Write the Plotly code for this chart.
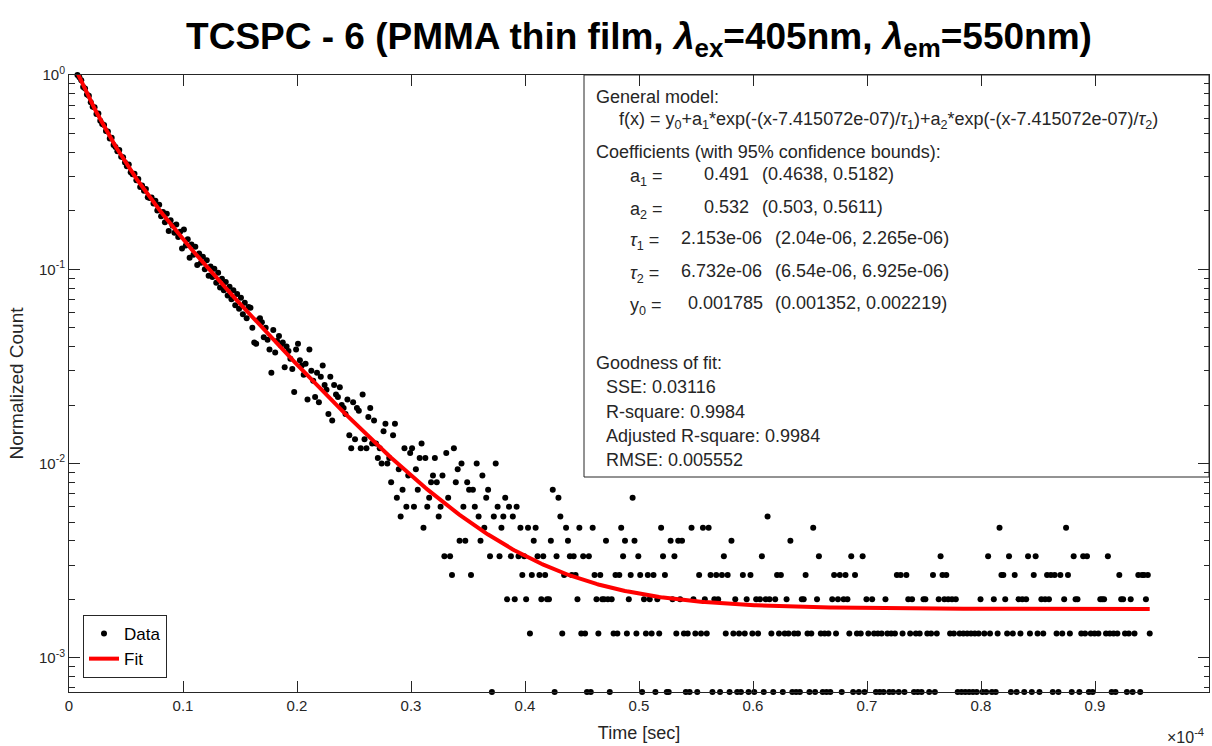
import numpy as np
import plotly.graph_objects as go

# ---------------- data ----------------
TIME_START = 7.415072e-07      # s, time of the first (peak) channel
TIME_STEP = 1.6677e-07         # s, channel width
COUNT_MAX = 1500               # counts of the peak channel (normalisation)

counts = [
    1500, 1462, 1410, 1301, 1278, 1190, 1174, 1086, 1031, 1022,
    944, 951, 871, 838, 829, 772, 768, 706, 712, 655,
    639, 608, 617, 570, 566, 531, 508, 519, 474, 462,
    466, 431, 437, 398, 405, 380, 388, 352, 349, 351,
    327, 338, 301, 322, 281, 296, 262, 290, 236, 268,
    252, 231, 255, 220, 234, 192, 240, 199, 214, 172,
    201, 178, 196, 158, 181, 162, 174, 150, 167, 139,
    155, 137, 151, 128, 144, 121, 134, 117, 129, 110,
    122, 105, 117, 98, 112, 94, 107, 88, 101, 84,
    96, 95, 75, 63, 62, 82, 84, 80, 67, 75,
    65, 58, 44, 73, 56, 64, 68, 61, 63, 47,
    60, 57, 52, 46, 35, 58, 62, 51, 48, 43,
    49, 32, 58, 45, 40, 33, 44, 31, 42, 48,
    38, 36, 27, 42, 25, 38, 34, 33, 37, 30,
    29, 27, 32, 21, 18, 31, 20, 29, 28, 18,
    34, 20, 18, 26, 29, 19, 25, 19, 16, 18,
    15, 22, 24, 15, 16, 12, 21, 24, 10, 14,
    8, 11, 18, 9, 13, 17, 18, 9, 14, 11,
    16, 19, 7, 16, 9, 10, 12, 13, 16, 12,
    8, 9, 13, 5, 17, 10, 5, 4, 18, 12,
    14, 6, 15, 9, 6, 12, 11, 4, 11, 9,
    15, 8, 6, 13, 7, 10, 11, 5, 1, 8,
    15, 9, 5, 7, 8, 10, 3, 9, 5, 8,
    3, 9, 5, 7, 4, 5, 3, 7, 2, 4,
    6, 7, 5, 4, 3, 5, 4, 3, 3, 6,
    11, 1, 5, 10, 8, 2, 4, 7, 6, 5,
    4, 5, 4, 3, 7, 2, 5, 2, 1, 5,
    1, 7, 4, 3, 2, 4, 3, 3, 6, 3,
    1, 3, 2, 4, 2, 4, 7, 5, 6, 2,
    3, 4, 10, 6, 2, 5, 4, 1, 3, 2,
    4, 3, 2, 4, 1, 3, 2, 7, 5, 4,
    1, 1, 6, 3, 5, 2, 6, 3, 6, 2,
    1, 2, 1, 7, 3, 2, 1, 4, 2, 7,
    3, 2, 7, 4, 1, 3, 4, 3, 1, 4,
    5, 2, 4, 1, 6, 2, 3, 1, 2, 1,
    4, 2, 3, 1, 4, 2, 1, 3, 2, 3,
    5, 1, 3, 8, 3, 2, 1, 3, 4, 2,
    4, 1, 2, 3, 2, 6, 1, 2, 1, 2,
    1, 3, 3, 4, 2, 1, 2, 7, 1, 3,
    5, 2, 1, 2, 1, 2, 1, 3, 4, 2,
    3, 4, 1, 3, 4, 3, 2, 5, 1, 4,
    2, 1, 2, 5, 1, 3, 2, 0, 3, 2,
    1, 2, 1, 2, 1, 3, 2, 1, 2, 1,
    2, 4, 1, 4, 2, 1, 4, 3, 2, 3,
    1, 2, 1, 2, 1, 3, 3, 2, 1, 2,
    4, 1, 2, 3, 5, 4, 3, 4, 3, 2,
    3, 2, 3, 1, 2, 1, 2, 1, 2, 1,
    2, 1, 2, 1, 2, 3, 1, 2, 1, 5,
    2, 1, 3, 1, 2, 7, 4, 4, 3, 2,
    5, 1, 2, 4, 1, 3, 2, 3, 1, 3,
    5, 2, 1, 4, 5, 2, 1, 3, 2, 3,
    4, 3, 4, 1, 4, 2, 1, 4, 2, 3,
    7, 4, 2, 1, 5, 3, 3, 1, 2, 5,
    2, 5, 1, 2, 1, 2, 0, 2, 3, 3,
    3, 2, 5, 2, 1, 2, 1, 2, 4, 3,
    3, 2, 1, 2, 3, 1, 2, 0, 4, 1,
    4, 4, 3, 4, 2,
]

# fit coefficients (shown in the figure)
fit_a1 = 0.491
fit_a2 = 0.532
fit_tau1 = 2.153e-06
fit_tau2 = 6.732e-06
fit_y0 = 0.001785
fit_shift = 7.415072e-07

x_ticks = [0, 1e-5, 2e-5, 3e-5, 4e-5, 5e-5, 6e-5, 7e-5, 8e-5, 9e-5, 1e-4]
x_tick_labels = ["0", "0.1", "0.2", "0.3", "0.4", "0.5", "0.6", "0.7", "0.8", "0.9", "1"]
y_ticks = [1, 0.1, 0.01, 0.001]
y_tick_labels = ["10<sup>0</sup>", "10<sup>-1</sup>", "10<sup>-2</sup>", "10<sup>-3</sup>"]

# ---------------- derived series ----------------
counts_arr = np.array(counts, dtype=float)
t = TIME_START + TIME_STEP * np.arange(len(counts_arr))
norm = counts_arr / COUNT_MAX
keep = norm > 0
fit_y = (fit_y0 + fit_a1 * np.exp(-(t - fit_shift) / fit_tau1)
         + fit_a2 * np.exp(-(t - fit_shift) / fit_tau2))

# ---------------- figure ----------------
W, H = 1212, 746
L, R, T, B = 69, 1209, 75, 692
FONT = "Liberation Sans, Arial, Helvetica, sans-serif"
AX = "#262626"


def px(x):
    return (x - L) / (R - L)


def py(y):
    return (B - y) / (B - T)


fig = go.Figure()
fig.add_trace(go.Scatter(x=t[keep], y=norm[keep], mode="markers", name="Data",
                         cliponaxis=False,
                         marker=dict(color="black", size=6, line=dict(width=0))))
fig.add_trace(go.Scatter(x=t, y=fit_y, mode="lines", name="Fit",
                         line=dict(color="#ff0000", width=4)))

minor_vals = [k * 10.0 ** e for e in (-4, -3, -2, -1) for k in range(2, 10)
              if 1 / COUNT_MAX <= k * 10.0 ** e <= 1]

fig.update_layout(
    width=W, height=H,
    margin=dict(l=L, r=W - R, t=T, b=H - B, pad=0),
    paper_bgcolor="white", plot_bgcolor="white",
    font=dict(family=FONT, color=AX),
    title=dict(
        text="<b>TCSPC - 6 (PMMA thin film, <i>λ</i><sub>ex</sub>=405nm, "
             "<i>λ</i><sub>em</sub>=550nm)</b>",
        x=0.5, xref="paper", xanchor="center",
        y=1 - 36 / H, yref="container", yanchor="middle",
        font=dict(size=37, color="black", family=FONT)),
    showlegend=True,
    legend=dict(x=px(83), y=py(678), xanchor="left", yanchor="bottom",
                bgcolor="white", bordercolor=AX, borderwidth=1,
                font=dict(size=17, color="black", family=FONT),
                itemwidth=30, tracegroupgap=0),
    xaxis=dict(range=[0, 1e-4], tickmode="array", tickvals=x_ticks, ticktext=x_tick_labels,
               ticks="inside", ticklen=11, tickwidth=1, tickcolor=AX,
               showline=True, linecolor=AX, linewidth=1, mirror="allticks",
               showgrid=False, zeroline=False,
               tickfont=dict(size=15, color=AX, family=FONT),
               title=dict(text="Time [sec]", font=dict(size=18, color=AX, family=FONT), standoff=13),
               automargin=False),
    yaxis=dict(type="log", range=[np.log10(1 / COUNT_MAX), 0],
               tickmode="array", tickvals=y_ticks, ticktext=y_tick_labels,
               ticks="inside", ticklen=11, tickwidth=1, tickcolor=AX,
               minor=dict(tickmode="array", tickvals=minor_vals, ticks="inside",
                          ticklen=5.5, tickcolor=AX, showgrid=False),
               showline=True, linecolor=AX, linewidth=1, mirror="allticks",
               showgrid=False, zeroline=False,
               tickfont=dict(size=15, color=AX, family=FONT),
               title=dict(text="Normalized Count", font=dict(size=19, color=AX, family=FONT), standoff=10),
               automargin=False),
)

# results box
fig.add_shape(type="rect", xref="paper", yref="paper",
              x0=px(584), x1=px(1209), y0=py(477), y1=py(75),
              line=dict(color=AX, width=1), fillcolor="white", layer="below")

TXT = dict(size=18, color=AX, family=FONT)


def note(x, y, text):
    fig.add_annotation(x=px(x), y=py(y), xref="paper", yref="paper", text=text,
                       showarrow=False, xanchor="left", yanchor="middle",
                       font=TXT, align="left")


note(594, 97, "General model:")
note(617, 121, "f(x) = y<sub>0</sub>+a<sub>1</sub>*exp(-(x-7.415072e-07)/<i>τ</i><sub>1</sub>)"
               "+a<sub>2</sub>*exp(-(x-7.415072e-07)/<i>τ</i><sub>2</sub>)")
note(594, 152, "Coefficients (with 95% confidence bounds):")

coef_rows = [
    ("a<sub>1</sub> =", "0.491", "(0.4638, 0.5182)", 177, 702, 760),
    ("a<sub>2</sub> =", "0.532", "(0.503, 0.5611)", 210, 702, 760),
    ("<i>τ</i><sub>1</sub> =", "2.153e-06", "(2.04e-06, 2.265e-06)", 241, 679, 773),
    ("<i>τ</i><sub>2</sub> =", "6.732e-06", "(6.54e-06, 6.925e-06)", 274, 679, 773),
    ("y<sub>0</sub> =", "0.001785", "(0.001352, 0.002219)", 306, 686, 773),
]
for lab, val, bounds, yy, xv, xb in coef_rows:
    note(628, yy, lab)
    note(xv, yy - 3, val)
    note(xb, yy - 3, bounds)

note(594, 363, "Goodness of fit:")
note(604, 387, "SSE: 0.03116")
note(604, 412, "R-square: 0.9984")
note(604, 436, "Adjusted R-square: 0.9984")
note(604, 460, "RMSE: 0.005552")

# axis exponent
fig.add_annotation(x=px(1165), y=(B - 736) / (B - T), xref="paper", yref="paper",
                   text="×10<sup>-4</sup>", showarrow=False, xanchor="left", yanchor="middle",
                   font=dict(size=16, color=AX, family=FONT))

fig.write_html("out.html", config={"displayModeBar": False},
               post_script="document.body.style.margin='0';")
